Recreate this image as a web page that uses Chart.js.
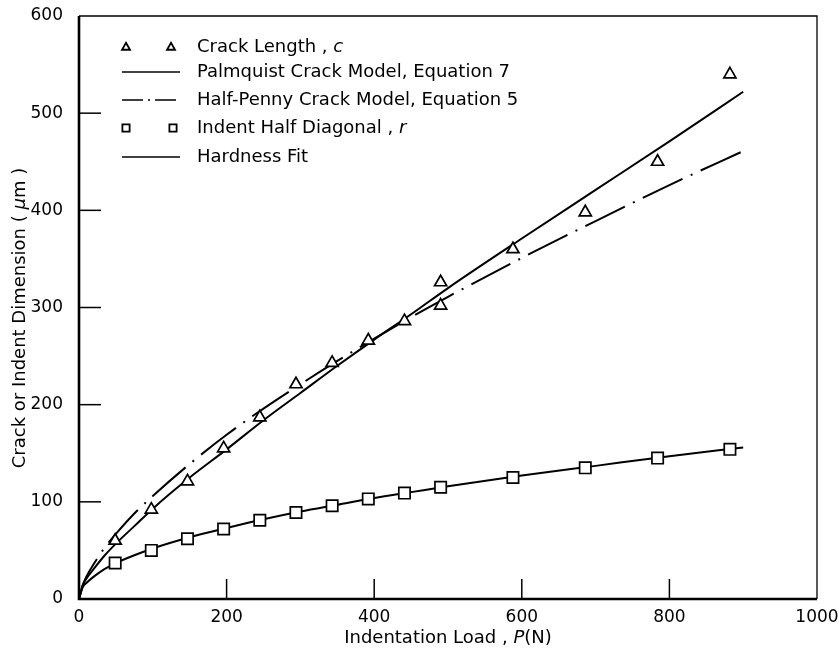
<!DOCTYPE html>
<html><head><meta charset="utf-8">
<script src="https://cdn.jsdelivr.net/npm/chart.js@4.4.0/dist/chart.umd.min.js"></script>
<style>html,body{margin:0;padding:0;background:#fff}#wrap{width:839px;height:649px}</style>
</head><body><div id="wrap"><canvas id="c" width="839" height="649"></canvas></div>
<script>
// ---- data ----
const crackLoads   = [49,98,147,196,245,294,343,392,441,490,490,588,686,784,882];
const crackLength  = [60,92,121,155,187,221,243,266,286,326,302,360,398,450,540];
const indentLoads  = [49,98,147,196,245,294,343,392,441,490,588,686,784,882];
const halfDiagonal = [37,50,62,72,81,89,96,103,109,115,125,135,145,154];
const curveLoads   = [0,5,10,20,35,50,75,100,150,200,250,300,350,400,450,500,600,700,800,900];
const palmquist    = [0,14,21,31,45,57,75,93,125,154,184,212,240,267,293,320,371,421,471,522];
const halfPenny    = [0,14,23,36,53,67,88,106,139,169,196,221,245,268,290,311,351,389,426,461];
const hardnessFit  = [0,12,16.5,23,31,37,45,52,63.5,73,82,90,97,104,110,116,127,137,147,156];
const xTicks = [0,200,400,600,800,1000];
const yTicks = [0,100,200,300,400,500,600];
const legendRows = [
  {kind:'triangle', text:[['Crack Length , ',false],['c',true]]},
  {kind:'solid',    text:[['Palmquist Crack Model, Equation 7',false]]},
  {kind:'dashdot',  text:[['Half-Penny Crack Model, Equation 5',false]]},
  {kind:'square',   text:[['Indent Half Diagonal , ',false],['r',true]]},
  {kind:'solid',    text:[['Hardness Fit',false]]}
];
const xTitle = [['Indentation Load , ',false],['P',true],['(N)',false]];
const yTitle = [['Crack or Indent Dimension ( ',false],['\u03bc',true],['m )',false]];

const FAMILY = '"DejaVu Sans", sans-serif';
const DASHDOT = [44,9,2,9];

function pts(xs, ys){ return xs.map((v,i)=>({x:v,y:ys[i]})); }

function drawMixed(ctx, segs, x, y, size, align){
  let w = 0;
  segs.forEach(([t,it])=>{ ctx.font=(it?'italic ':'')+size+'px '+FAMILY; w+=ctx.measureText(t).width; });
  let cx = align==='center' ? x - w/2 : x;
  ctx.textAlign='left'; ctx.textBaseline='middle';
  segs.forEach(([t,it])=>{ ctx.font=(it?'italic ':'')+size+'px '+FAMILY; ctx.fillText(t,cx,y); cx+=ctx.measureText(t).width; });
}
function tri(ctx,x,y,r){
  ctx.beginPath();
  ctx.moveTo(x, y-r); ctx.lineTo(x+r*0.95, y+r*0.65); ctx.lineTo(x-r*0.95, y+r*0.65); ctx.closePath();
  ctx.fillStyle='#fff'; ctx.fill(); ctx.stroke();
}
function sq(ctx,x,y,r){
  ctx.beginPath(); ctx.rect(x-r,y-r,2*r,2*r); ctx.fillStyle='#fff'; ctx.fill(); ctx.stroke();
}

const decor = {
  id:'decor',
  afterDraw(chart){
    const {ctx, chartArea:a, scales:{x,y}} = chart;
    ctx.save();
    ctx.strokeStyle='#000'; ctx.fillStyle='#000'; ctx.setLineDash([]);
    // frame
    ctx.lineWidth=1.3;
    ctx.beginPath(); ctx.moveTo(a.left,a.top); ctx.lineTo(a.right,a.top); ctx.lineTo(a.right,a.bottom); ctx.stroke();
    ctx.lineWidth=2.6;
    ctx.beginPath(); ctx.moveTo(a.left,a.top); ctx.lineTo(a.left,a.bottom); ctx.lineTo(a.right,a.bottom); ctx.stroke();
    // inward ticks
    ctx.lineWidth=1.5;
    xTicks.slice(1,-1).forEach(v=>{ const p=x.getPixelForValue(v); ctx.beginPath(); ctx.moveTo(p,a.bottom); ctx.lineTo(p,a.bottom-20); ctx.stroke(); });
    yTicks.slice(1,-1).forEach(v=>{ const p=y.getPixelForValue(v); ctx.beginPath(); ctx.moveTo(a.left,p); ctx.lineTo(a.left+22,p); ctx.stroke(); });
    // legend
    const rowsY=[47,72,100,128,157];
    legendRows.forEach((row,i)=>{
      const ry = rowsY[i];
      ctx.strokeStyle='#000'; ctx.fillStyle='#000';
      if(row.kind==='triangle'){ ctx.lineWidth=1.8; tri(ctx,126,ry,4.2); tri(ctx,171,ry,4.2); }
      else if(row.kind==='square'){ ctx.lineWidth=1.8; sq(ctx,126,ry,3.6); sq(ctx,173,ry,3.6); }
      else {
        ctx.lineWidth=1.6; ctx.setLineDash(row.kind==='dashdot'?[21,5,2,5]:[]);
        ctx.beginPath(); ctx.moveTo(122,ry); ctx.lineTo(180,ry); ctx.stroke(); ctx.setLineDash([]);
      }
      ctx.fillStyle='#000';
      drawMixed(ctx,row.text,197,ry,18,'left');
    });
    // axis titles
    drawMixed(ctx,xTitle,(a.left+a.right)/2,638,18,'center');
    ctx.save(); ctx.translate(20,318); ctx.rotate(-Math.PI/2);
    drawMixed(ctx,yTitle,0,0,18,'center'); ctx.restore();
    ctx.restore();
  }
};

Chart.defaults.color='#000';
Chart.defaults.font.family=FAMILY;

new Chart(document.getElementById('c'),{
  type:'scatter',
  data:{datasets:[
    {label:'Crack Length, c', data:pts(crackLoads,crackLength), showLine:false, pointStyle:'triangle', pointRadius:7,
     pointBorderWidth:1.7, pointBackgroundColor:'#fff', pointBorderColor:'#000', order:0},
    {label:'Indent Half Diagonal, r', data:pts(indentLoads,halfDiagonal), showLine:false, pointStyle:'rect', pointRadius:8,
     pointBorderWidth:1.7, pointBackgroundColor:'#fff', pointBorderColor:'#000', order:0},
    {label:'Palmquist Crack Model, Equation 7', data:pts(curveLoads,palmquist), showLine:true, pointRadius:0,
     borderColor:'#000', borderWidth:2, cubicInterpolationMode:'monotone', order:2},
    {label:'Half-Penny Crack Model, Equation 5', data:pts(curveLoads,halfPenny), showLine:true, pointRadius:0,
     borderColor:'#000', borderWidth:2, borderDash:DASHDOT, cubicInterpolationMode:'monotone', order:2},
    {label:'Hardness Fit', data:pts(curveLoads,hardnessFit), showLine:true, pointRadius:0,
     borderColor:'#000', borderWidth:2, cubicInterpolationMode:'monotone', order:2}
  ]},
  options:{
    responsive:false, animation:false, devicePixelRatio:1,
    layout:{padding:{top:16,right:22,left:0,bottom:0}},
    plugins:{legend:{display:false}, tooltip:{enabled:false}},
    scales:{
      x:{type:'linear', min:0, max:1000, afterBuildTicks:s=>{s.ticks=xTicks.map(v=>({value:v}));},
         grid:{display:false, drawTicks:false}, border:{display:false},
         ticks:{font:{size:17}, padding:8, maxRotation:0, autoSkip:false, callback:v=>String(v)},
         afterFit:s=>{s.height=50; s.paddingLeft=0; s.paddingRight=0;}},
      y:{type:'linear', min:0, max:600, afterBuildTicks:s=>{s.ticks=yTicks.map(v=>({value:v}));},
         grid:{display:false, drawTicks:false}, border:{display:false},
         ticks:{font:{size:17}, padding:16, autoSkip:false, callback:v=>String(v)},
         afterFit:s=>{s.width=79; s.paddingTop=0; s.paddingBottom=0;}}
    }
  },
  plugins:[decor]
});
</script></body></html>
